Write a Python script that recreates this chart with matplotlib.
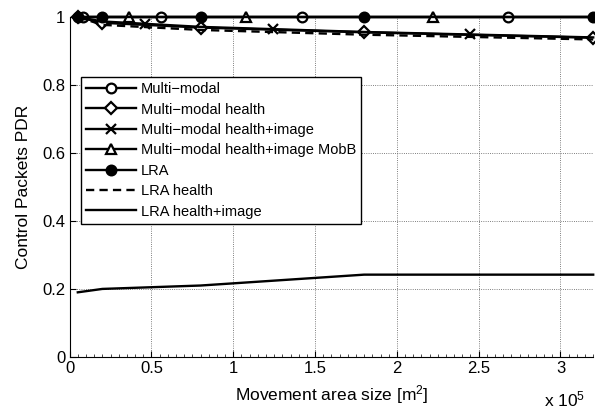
import matplotlib
matplotlib.use("Agg")
import matplotlib.pyplot as plt
from matplotlib.lines import Line2D
from matplotlib.ticker import FuncFormatter, MultipleLocator

plt.rcParams["font.family"] = ["Liberation Sans", "DejaVu Sans"]
plt.rcParams["mathtext.fontset"] = "custom"
plt.rcParams["mathtext.rm"] = "Liberation Sans"
plt.rcParams["mathtext.it"] = "Liberation Sans:italic"

# movement area sizes [m^2]
area = [5000, 20000, 80000, 180000, 320000]

mm_pdr = [1.0, 1.0, 1.0, 1.0, 1.0]
mm_mark_x = [8000, 56000, 142000, 268000]
mm_mark_y = [1.0, 1.0, 1.0, 1.0]

mm_health_pdr = [1.0, 0.983, 0.969, 0.955, 0.939]

mm_hi_pdr = [1.0, 0.987, 0.971, 0.956, 0.940]
mm_hi_mark_x = [46000, 124000, 245000]
mm_hi_mark_y = [0.980, 0.965, 0.949]

mobb_pdr = [1.0, 1.0, 1.0, 1.0, 1.0]
mobb_mark_x = [36000, 108000, 222000]
mobb_mark_y = [1.0, 1.0, 1.0]

lra_pdr = [1.0, 1.0, 1.0, 1.0, 1.0]
lra_health_pdr = [1.0, 0.977, 0.962, 0.948, 0.934]
lra_hi_pdr = [0.19, 0.20, 0.21, 0.242, 0.242]

labels = ["Multi\u2212modal", "Multi\u2212modal health", "Multi\u2212modal health+image",
          "Multi\u2212modal health+image MobB", "LRA", "LRA health", "LRA health+image"]

fig = plt.figure(figsize=(5.95, 4.15), dpi=100)
ax = fig.add_axes([0.117, 0.140, 0.880, 0.819])

lw = 1.7
ms = 7
mew = 1.6
dash = (0, (3.5, 2.2))
kw = dict(color="black", lw=lw, clip_on=False)
mk = dict(ms=ms, mew=mew, mec="black", ls="none", clip_on=False)

ax.plot(area, mm_pdr, **kw)
ax.plot(mm_mark_x, mm_mark_y, marker="o", mfc="white", **mk)
ax.plot(area, mm_health_pdr, marker="D", mfc="white", ms=ms - 1, mew=mew, **kw)
ax.plot(area, mm_hi_pdr, **kw)
ax.plot(mm_hi_mark_x, mm_hi_mark_y, marker="x", **mk)
ax.plot(area, mobb_pdr, **kw)
ax.plot(mobb_mark_x, mobb_mark_y, marker="^", mfc="white", **mk)
ax.plot(area, lra_pdr, marker="o", mfc="black", ms=ms, mew=mew, **kw)
ax.plot(area, lra_health_pdr, ls=dash, **kw)
ax.plot(area, lra_hi_pdr, **kw)

handles = [
    Line2D([], [], color="black", lw=lw, marker="o", mfc="white", ms=ms, mew=mew),
    Line2D([], [], color="black", lw=lw, marker="D", mfc="white", ms=ms - 1, mew=mew),
    Line2D([], [], color="black", lw=lw, marker="x", ms=ms, mew=mew),
    Line2D([], [], color="black", lw=lw, marker="^", mfc="white", ms=ms, mew=mew),
    Line2D([], [], color="black", lw=lw, marker="o", mfc="black", ms=ms, mew=mew),
    Line2D([], [], color="black", lw=lw, ls=dash),
    Line2D([], [], color="black", lw=lw),
]

ax.set_xlim(0, 320000)
ax.set_ylim(0, 1)
ax.xaxis.set_major_locator(MultipleLocator(50000))
ax.xaxis.set_minor_locator(MultipleLocator(5000))
ax.yaxis.set_major_locator(MultipleLocator(0.2))
ax.xaxis.set_major_formatter(FuncFormatter(lambda v, p: f"{v / 1e5:g}"))
ax.yaxis.set_major_formatter(FuncFormatter(lambda v, p: f"{v:g}"))
ax.tick_params(which="major", direction="in", length=4, width=0.8, labelsize=12, pad=3)
ax.tick_params(which="minor", direction="in", length=2, width=0.5)
ax.tick_params(axis="y", which="minor", left=False)
ax.grid(True, which="major", ls=":", lw=0.6, color="#555555")
ax.spines["top"].set_visible(False)
ax.spines["right"].set_visible(False)

ax.set_xlabel("Movement area size [m$^2$]", fontsize=12.5, labelpad=5)
ax.set_ylabel("Control Packets PDR", fontsize=12.5, labelpad=8)
fig.text(0.915, 0.02, "x 10$^5$", fontsize=12.5)

leg = ax.legend(handles, labels, loc="upper left", bbox_to_anchor=(81 / 595, 1 - 77 / 415),
                bbox_transform=fig.transFigure, handlelength=3.4,
                prop={"size": 10.5},
                labelspacing=0.44, borderpad=0.35, handletextpad=0.35, borderaxespad=0,
                fancybox=False, framealpha=1)
leg.get_frame().set_edgecolor("black")
leg.get_frame().set_linewidth(1.0)

fig.savefig("out.png", dpi=100)
